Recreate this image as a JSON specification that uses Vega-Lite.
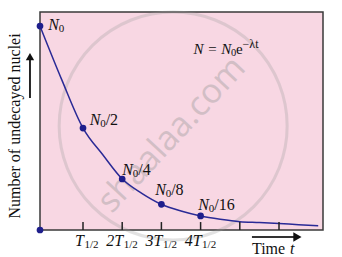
{
  "$schema": "https://vega.github.io/schema/vega-lite/v6.json",
  "width": 283,
  "height": 218,
  "autosize": {"type": "none"},
  "padding": {"left": 40, "top": 12, "right": 19, "bottom": 27},
  "background": "white",
  "config": {
    "view": {"fill": "#f8d7e3", "stroke": "#3a3a3a", "strokeWidth": 1.5},
    "text": {"font": "Liberation Serif", "fontSize": 16, "color": "#111111"}
  },
  "datasets": {
    "curve": [
      {"t": 0, "n": 100}, {"t": 0.5, "n": 74}, {"t": 1, "n": 50}, {"t": 1.5, "n": 37},
      {"t": 2, "n": 25}, {"t": 2.5, "n": 18}, {"t": 3, "n": 12.6}, {"t": 3.5, "n": 9.3},
      {"t": 4, "n": 6.9}, {"t": 4.5, "n": 5.3}, {"t": 5, "n": 4.1}, {"t": 5.5, "n": 3.7},
      {"t": 6, "n": 3.2}, {"t": 6.5, "n": 2.6}, {"t": 7, "n": 2.1}
    ],
    "points": [
      {"t": 0, "n": 100}, {"t": 1, "n": 50}, {"t": 2, "n": 25}, {"t": 3, "n": 12.6},
      {"t": 4, "n": 6.9}, {"t": 0, "n": 0}
    ],
    "labels": [
      {"t": 0.19, "n": 100.5, "main": "N", "zero": "0", "rest": ""},
      {"t": 1.17, "n": 53.9, "main": "N", "zero": "0", "rest": "/2"},
      {"t": 2.0, "n": 29.6, "main": "N", "zero": "0", "rest": "/4"},
      {"t": 2.84, "n": 19.6, "main": "N", "zero": "0", "rest": "/8"},
      {"t": 3.94, "n": 12.3, "main": "N", "zero": "0", "rest": "/16"}
    ],
    "ticks": [{"t": 1}, {"t": 2}, {"t": 3}, {"t": 4}, {"t": 5}, {"t": 6}],
    "xlabels": [
      {"t": 1, "main": "T"}, {"t": 2, "main": "2T"}, {"t": 3, "main": "3T"}, {"t": 4, "main": "4T"}
    ]
  },
  "layer": [
    {
      "data": {"values": [{"label": "shaalaa.com"}]},
      "mark": {"type": "text", "font": "Open Sans", "fontSize": 34, "angle": -47, "color": "#9a9a9a", "opacity": 0.4, "align": "center", "baseline": "middle"},
      "encoding": {
        "x": {"datum": 3.27, "type": "quantitative", "scale": {"domain": [0, 1, 6], "range": [0, 43, 239], "nice": false, "zero": false}, "axis": null},
        "y": {"datum": 46.6, "type": "quantitative", "scale": {"domain": [0, 106.9], "nice": false, "zero": false}, "axis": null},
        "text": {"field": "label"}
      }
    },
    {
      "data": {"values": [{"w": 1}]},
      "mark": {"type": "point", "shape": "circle", "size": 51984, "filled": false, "stroke": "#9a9a9a", "strokeOpacity": 0.4, "strokeWidth": 3},
      "encoding": {
        "x": {"datum": 3.3, "type": "quantitative", "axis": null},
        "y": {"datum": 51, "type": "quantitative", "axis": null}
      }
    },
    {
      "data": {"name": "curve"},
      "mark": {"type": "line", "interpolate": "monotone", "color": "#2a2a96", "strokeWidth": 1.5},
      "encoding": {
        "x": {"field": "t", "type": "quantitative", "axis": null},
        "y": {"field": "n", "type": "quantitative", "axis": null}
      }
    },
    {
      "data": {"name": "ticks"},
      "mark": {"type": "rule", "color": "#222222", "strokeWidth": 1.5},
      "encoding": {
        "x": {"field": "t", "type": "quantitative", "axis": null},
        "y": {"datum": 0, "type": "quantitative", "axis": null},
        "y2": {"datum": 3.9}
      }
    },
    {
      "data": {"name": "points"},
      "mark": {"type": "point", "filled": true, "size": 45, "color": "#1e1e8c", "opacity": 1},
      "encoding": {
        "x": {"field": "t", "type": "quantitative", "axis": null},
        "y": {"field": "n", "type": "quantitative", "axis": null}
      }
    },
    {
      "data": {"name": "labels"},
      "mark": {"type": "text", "align": "left", "baseline": "middle", "fontStyle": "italic"},
      "encoding": {
        "x": {"field": "t", "type": "quantitative", "axis": null},
        "y": {"field": "n", "type": "quantitative", "axis": null},
        "text": {"field": "main"}
      }
    },
    {
      "data": {"name": "labels"},
      "mark": {"type": "text", "align": "left", "baseline": "middle", "fontSize": 11, "dx": 10.5, "dy": 4},
      "encoding": {
        "x": {"field": "t", "type": "quantitative", "axis": null},
        "y": {"field": "n", "type": "quantitative", "axis": null},
        "text": {"field": "zero"}
      }
    },
    {
      "data": {"name": "labels"},
      "mark": {"type": "text", "align": "left", "baseline": "middle", "dx": 16},
      "encoding": {
        "x": {"field": "t", "type": "quantitative", "axis": null},
        "y": {"field": "n", "type": "quantitative", "axis": null},
        "text": {"field": "rest"}
      }
    },
    {
      "data": {"values": [{"f": "N = N"}]},
      "mark": {"type": "text", "align": "left", "baseline": "middle", "fontStyle": "italic", "fontSize": 15},
      "encoding": {
        "x": {"datum": 3.82, "type": "quantitative", "axis": null},
        "y": {"datum": 88.7, "type": "quantitative", "axis": null},
        "text": {"field": "f"}
      }
    },
    {
      "data": {"values": [{"f": "0"}]},
      "mark": {"type": "text", "align": "left", "baseline": "middle", "fontSize": 10.5, "dx": 37.5, "dy": 4},
      "encoding": {
        "x": {"datum": 3.82, "type": "quantitative", "axis": null},
        "y": {"datum": 88.7, "type": "quantitative", "axis": null},
        "text": {"field": "f"}
      }
    },
    {
      "data": {"values": [{"f": "e"}]},
      "mark": {"type": "text", "align": "left", "baseline": "middle", "fontSize": 15, "dx": 42.5},
      "encoding": {
        "x": {"datum": 3.82, "type": "quantitative", "axis": null},
        "y": {"datum": 88.7, "type": "quantitative", "axis": null},
        "text": {"field": "f"}
      }
    },
    {
      "data": {"values": [{"f": "−λt"}]},
      "mark": {"type": "text", "align": "left", "baseline": "middle", "fontSize": 12, "dx": 49, "dy": -5},
      "encoding": {
        "x": {"datum": 3.82, "type": "quantitative", "axis": null},
        "y": {"datum": 88.7, "type": "quantitative", "axis": null},
        "text": {"field": "f"}
      }
    },
    {
      "data": {"name": "xlabels"},
      "mark": {"type": "text", "align": "right", "baseline": "middle", "fontStyle": "italic", "dx": 1},
      "encoding": {
        "x": {"field": "t", "type": "quantitative", "axis": null},
        "y": {"datum": -5.4, "type": "quantitative", "axis": null},
        "text": {"field": "main"}
      }
    },
    {
      "data": {"name": "xlabels"},
      "mark": {"type": "text", "align": "left", "baseline": "middle", "fontSize": 11, "dx": 1.5, "dy": 4, "text": "1/2"},
      "encoding": {
        "x": {"field": "t", "type": "quantitative", "axis": null},
        "y": {"datum": -5.4, "type": "quantitative", "axis": null}
      }
    },
    {
      "data": {"values": [{"f": "Number of undecayed nuclei"}]},
      "mark": {"type": "text", "align": "center", "baseline": "middle", "angle": 270},
      "encoding": {
        "x": {"datum": -0.58, "type": "quantitative", "axis": null},
        "y": {"datum": 51, "type": "quantitative", "axis": null},
        "text": {"field": "f"}
      }
    },
    {
      "data": {"values": [{"a": 1}]},
      "mark": {"type": "rule", "color": "#111111", "strokeWidth": 1.8},
      "encoding": {
        "x": {"datum": -0.233, "type": "quantitative", "axis": null},
        "y": {"datum": 64.7, "type": "quantitative", "axis": null},
        "y2": {"datum": 84}
      }
    },
    {
      "data": {"values": [{"a": 1}]},
      "mark": {"type": "point", "shape": "triangle-up", "filled": true, "size": 70, "color": "#111111", "opacity": 1},
      "encoding": {
        "x": {"datum": -0.233, "type": "quantitative", "axis": null},
        "y": {"datum": 85, "type": "quantitative", "axis": null}
      }
    },
    {
      "data": {"values": [{"a": 1}]},
      "mark": {"type": "rule", "color": "#333333", "strokeWidth": 2},
      "encoding": {
        "x": {"datum": 5.31, "type": "quantitative", "axis": null},
        "x2": {"datum": 6.4},
        "y": {"datum": -3.43, "type": "quantitative", "axis": null}
      }
    },
    {
      "data": {"values": [{"a": 1}]},
      "mark": {"type": "point", "shape": "triangle-right", "filled": true, "size": 90, "color": "#111111", "opacity": 1},
      "encoding": {
        "x": {"datum": 6.47, "type": "quantitative", "axis": null},
        "y": {"datum": -3.43, "type": "quantitative", "axis": null}
      }
    },
    {
      "data": {"values": [{"f": "Time"}]},
      "mark": {"type": "text", "align": "left", "baseline": "middle"},
      "encoding": {
        "x": {"datum": 5.31, "type": "quantitative", "axis": null},
        "y": {"datum": -9.3, "type": "quantitative", "axis": null},
        "text": {"field": "f"}
      }
    },
    {
      "data": {"values": [{"f": "t"}]},
      "mark": {"type": "text", "align": "left", "baseline": "middle", "fontStyle": "italic", "dx": 38},
      "encoding": {
        "x": {"datum": 5.31, "type": "quantitative", "axis": null},
        "y": {"datum": -9.3, "type": "quantitative", "axis": null},
        "text": {"field": "f"}
      }
    }
  ]
}
